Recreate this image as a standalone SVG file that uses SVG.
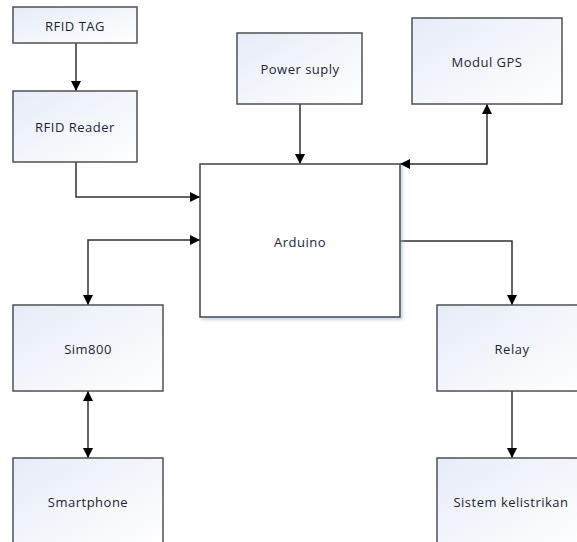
<svg xmlns="http://www.w3.org/2000/svg" width="577" height="542" viewBox="0 0 577 542">
<style>
.box{stroke:#505050;stroke-width:1.5;fill:url(#g)}
.ard{stroke:#404040;stroke-width:1.5;fill:#ffffff}
.lbl{font-family:"Open Sans","Liberation Sans",sans-serif;font-size:13px;letter-spacing:0.5px;fill:#1a1f3a;text-anchor:middle;dominant-baseline:central}
.cn{stroke:#303030;stroke-width:1.5;fill:none}
</style>
<defs>
<linearGradient id="g" x1="0" y1="0" x2="1" y2="1">
<stop offset="0" stop-color="#e6ecf7"/>
<stop offset="1" stop-color="#ffffff"/>
</linearGradient>
<marker id="ah" viewBox="0 0 10 10" refX="10" refY="5" markerWidth="10" markerHeight="10" markerUnits="userSpaceOnUse" orient="auto-start-reverse">
<path d="M0,0 L10,5 L0,10 Z" fill="#000"/>
</marker>
<filter id="sh" x="-10%" y="-10%" width="130%" height="130%">
<feDropShadow dx="2" dy="2" stdDeviation="1.5" flood-color="#9fb3d6" flood-opacity="0.6"/>
</filter>
</defs>
<g id="connectors">
<path class="cn" d="M76,43 V91" marker-end="url(#ah)"/>
<path class="cn" d="M76,162 V197 H200" marker-end="url(#ah)"/>
<path class="cn" d="M300,104 V164" marker-end="url(#ah)"/>
<path class="cn" d="M400,164 H487 V104" marker-start="url(#ah)" marker-end="url(#ah)"/>
<path class="cn" d="M200,240 H88 V305" marker-start="url(#ah)" marker-end="url(#ah)"/>
<path class="cn" d="M400,241 H512 V305" marker-end="url(#ah)"/>
<path class="cn" d="M88,391 V458" marker-start="url(#ah)" marker-end="url(#ah)"/>
<path class="cn" d="M512,391 V458" marker-end="url(#ah)"/>
</g>
<g id="rfid-tag"><rect class="box" x="13" y="7" width="124" height="36"/><text class="lbl" x="75" y="26">RFID TAG</text></g>
<g id="rfid-reader"><rect class="box" x="13" y="91" width="124" height="71"/><text class="lbl" x="75" y="127">RFID Reader</text></g>
<g id="power-supply"><rect class="box" x="237" y="33" width="125" height="71"/><text class="lbl" x="300" y="69">Power suply</text></g>
<g id="modul-gps"><rect class="box" x="412" y="18" width="150" height="86"/><text class="lbl" x="487" y="62">Modul GPS</text></g>
<g id="arduino"><rect class="ard" x="200" y="164" width="200" height="153" filter="url(#sh)"/><text class="lbl" x="300" y="242">Arduino</text></g>
<g id="sim800"><rect class="box" x="13" y="305" width="150" height="86"/><text class="lbl" x="88" y="349">Sim800</text></g>
<g id="relay"><rect class="box" x="437" y="305" width="150" height="86"/><text class="lbl" x="512" y="349">Relay</text></g>
<g id="smartphone"><rect class="box" x="13" y="458" width="150" height="90"/><text class="lbl" x="88" y="502">Smartphone</text></g>
<g id="sistem-kelistrikan"><rect class="box" x="437" y="458" width="150" height="90"/><text class="lbl" x="511" y="502">Sistem kelistrikan</text></g>
</svg>
